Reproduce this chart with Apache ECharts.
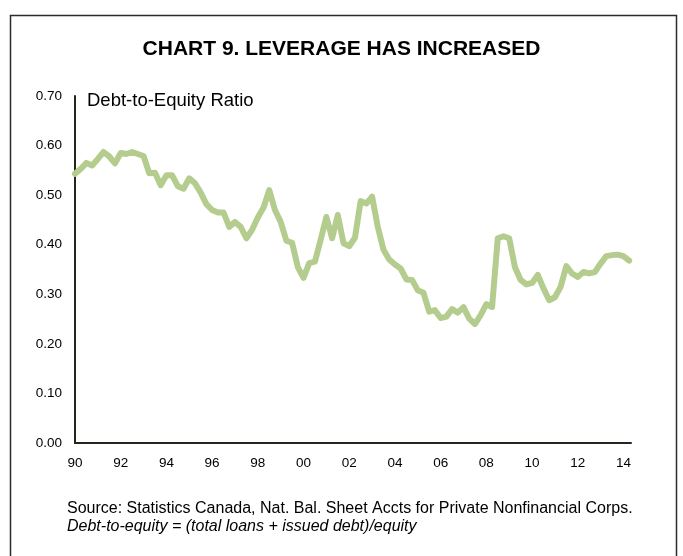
<!DOCTYPE html>
<html>
<head>
<meta charset="utf-8">
<script src="https://cdn.jsdelivr.net/npm/echarts@6/dist/echarts.min.js"></script>
<style>
  html, body { margin: 0; padding: 0; background: #fff; }
  #chart { width: 683px; height: 556px; }
</style>
</head>
<body>
<div id="chart"></div>
<script>
  // quarterly, 1990Q1 .. 2014Q2
  var startYear = 1990
  var debtToEquity = [
    0.543, 0.553, 0.565, 0.560, 0.573, 0.587, 0.578, 0.564,
    0.585, 0.583, 0.587, 0.583, 0.579, 0.544, 0.545, 0.520,
    0.540, 0.540, 0.518, 0.513, 0.534, 0.524, 0.505, 0.482,
    0.470, 0.465, 0.465, 0.436, 0.446, 0.436, 0.413, 0.430,
    0.455, 0.475, 0.510, 0.470, 0.446, 0.408, 0.404, 0.355,
    0.333, 0.363, 0.366, 0.410, 0.456, 0.413, 0.460, 0.403,
    0.397, 0.414, 0.488, 0.483, 0.497, 0.436, 0.390, 0.370,
    0.360, 0.352, 0.330, 0.329, 0.308, 0.303, 0.265, 0.268,
    0.252, 0.255, 0.270, 0.263, 0.274, 0.251, 0.240, 0.258,
    0.280, 0.274, 0.413, 0.417, 0.413, 0.355, 0.329, 0.320,
    0.323, 0.339, 0.312, 0.288, 0.294, 0.315, 0.357, 0.342,
    0.335, 0.345, 0.342, 0.345, 0.362, 0.377, 0.379, 0.380,
    0.377, 0.368
  ]
  var yTicks = [0, 0.1, 0.2, 0.3, 0.4, 0.5, 0.6, 0.7]
  var titleText = 'CHART 9. LEVERAGE HAS INCREASED'
  var seriesName = 'Debt-to-Equity Ratio'
  var sourceText = 'Source: Statistics Canada, Nat. Bal. Sheet Accts for Private Nonfinancial Corps.'
  var noteText = 'Debt-to-equity = (total loans + issued debt)/equity'

  var points = debtToEquity.map(function (v, i) {
    return [startYear + i / 4, v]
  })

  var axisColor = '#23261a'
  var font = '"Liberation Sans", Arial, sans-serif'

  var chart = echarts.init(document.getElementById('chart'), null, { renderer: 'canvas' })
  chart.setOption({
    animation: false,
    backgroundColor: '#fff',
    title: {
      text: titleText,
      left: 'center',
      top: 34,
      textStyle: { fontFamily: font, fontSize: 21, fontWeight: 'bold', color: '#000' }
    },
    grid: { left: 75, right: 52, top: 96, bottom: 113 },
    xAxis: {
      type: 'value',
      min: 1990,
      max: 2014.33,
      interval: 2,
      axisLine: { show: true, lineStyle: { color: axisColor, width: 2 } },
      axisTick: { show: false },
      splitLine: { show: false },
      axisLabel: {
        margin: 13,
        fontFamily: font,
        fontSize: 13.5,
        color: '#000',
        formatter: function (v) {
          if (Math.abs(v - Math.round(v)) > 1e-6) return ''
          return String(Math.round(v) % 100).padStart(2, '0')
        }
      }
    },
    yAxis: {
      type: 'value',
      min: yTicks[0],
      max: yTicks[yTicks.length - 1],
      interval: 0.1,
      axisLine: { show: true, lineStyle: { color: axisColor, width: 2 } },
      axisTick: { show: false },
      splitLine: { show: false },
      axisLabel: {
        margin: 13,
        fontFamily: font,
        fontSize: 13.5,
        color: '#000',
        formatter: function (v) { return v.toFixed(2) }
      }
    },
    series: [{
      name: seriesName,
      type: 'line',
      data: points,
      showSymbol: false,
      smooth: false,
      lineStyle: { color: '#b5cc8f', width: 6, cap: 'round', join: 'round' },
      itemStyle: { color: '#b5cc8f' }
    }],
    graphic: [
      {
        type: 'rect',
        shape: { x: 10.5, y: 15.5, width: 666, height: 600 },
        style: { fill: 'none', stroke: '#2b2b2b', lineWidth: 1.5 },
        silent: true
      },
      {
        type: 'text',
        left: 87,
        top: 91,
        style: { text: seriesName, font: '18.5px ' + font, fill: '#000' }
      },
      {
        type: 'text',
        left: 67,
        top: 501,
        style: { text: sourceText, font: '16px ' + font, fill: '#000' }
      },
      {
        type: 'text',
        left: 67,
        top: 519,
        style: { text: noteText, font: 'italic 16px ' + font, fill: '#000' }
      }
    ]
  })
</script>
</body>
</html>
